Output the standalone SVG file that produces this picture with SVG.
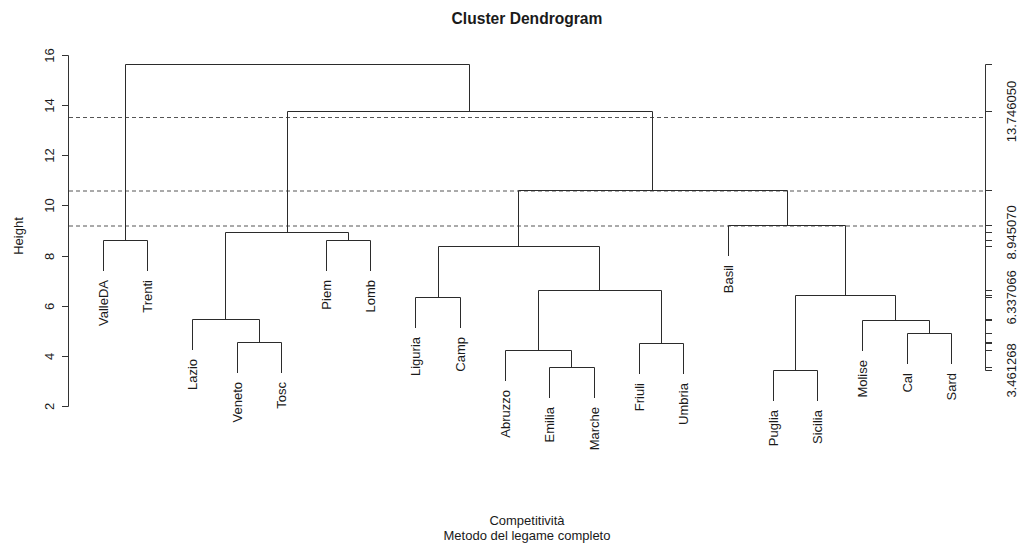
<svg xmlns="http://www.w3.org/2000/svg" width="1021" height="543" viewBox="0 0 1021 543">
  <style>
    text { font-family: "Liberation Sans", Arial, sans-serif; font-size: 13px; fill: #1a1a1a; }
    .title { font-size: 15.6px; font-weight: bold; }
    .branch { fill: none; stroke: #2b2b2b; stroke-width: 1; }
    .axis { fill: none; stroke: #333; stroke-width: 1; }
    .cut { fill: none; stroke: #555; stroke-width: 1; stroke-dasharray: 4 3; }
    .leaf text { text-anchor: end; }
    .tick text { text-anchor: middle; }
  </style>
  <rect width="1021" height="543" fill="#fff"/>

  <!-- titles -->
  <text class="title" x="527" y="24" text-anchor="middle">Cluster Dendrogram</text>
  <text x="527" y="525" text-anchor="middle">Competitività</text>
  <text x="527" y="540" text-anchor="middle">Metodo del legame completo</text>

  <!-- left height axis -->
  <g id="axis-left" class="tick">
    <path class="axis" d="M68.5 55.5V406.5M62 55.5H68.5M62 105.5H68.5M62 155.5H68.5M62 205.5H68.5M62 256.5H68.5M62 306.5H68.5M62 356.5H68.5M62 406.5H68.5"/>
    <text transform="translate(53.5 55.5) rotate(-90)">16</text>
    <text transform="translate(53.5 105.5) rotate(-90)">14</text>
    <text transform="translate(53.5 155.5) rotate(-90)">12</text>
    <text transform="translate(53.5 205.5) rotate(-90)">10</text>
    <text transform="translate(53.5 256.5) rotate(-90)">8</text>
    <text transform="translate(53.5 306.5) rotate(-90)">6</text>
    <text transform="translate(53.5 356.5) rotate(-90)">4</text>
    <text transform="translate(53.5 406.5) rotate(-90)">2</text>
    <text transform="translate(23 236) rotate(-90)">Height</text>
  </g>

  <!-- right axis: one tick per merge height -->
  <g id="axis-right" class="tick">
    <path class="axis" d="M985.5 64.5V370.5M985.5 64.5H992M985.5 111.5H992M985.5 190.5H992M985.5 225.5H992M985.5 232.5H992M985.5 240.5H992M985.5 246.5H992M985.5 290.5H992M985.5 295.5H992M985.5 297.5H992M985.5 319.5H992M985.5 320.5H992M985.5 333.5H992M985.5 342.5H992M985.5 343.5H992M985.5 350.5H992M985.5 367.5H992M985.5 370.5H992"/>
    <text transform="translate(1016 111.5) rotate(-90)">13.746050</text>
    <text transform="translate(1016 232.5) rotate(-90)">8.945070</text>
    <text transform="translate(1016 297.5) rotate(-90)">6.337066</text>
    <text transform="translate(1016 370.5) rotate(-90)">3.461268</text>
  </g>

  <!-- cut levels -->
  <g id="cuts">
    <path class="cut" d="M69 117.5H985M69 191H985M69 226H985"/>
  </g>

  <!-- merges of the tree -->
  <g id="connectors" class="branch">
    <path d="M103.5 271V240.5H147.5V271"/>
    <path d="M237.5 373V342.5H281.5V373"/>
    <path d="M192.5 350V319.5H259.5V342.5"/>
    <path d="M326.5 271V240.5H370.5V271"/>
    <path d="M225.5 319.5V232.5H348.5V240.5"/>
    <path d="M415.5 328V297.5H460.5V328"/>
    <path d="M549.5 398V367.5H594.5V398"/>
    <path d="M505.5 381V350.5H571.5V367.5"/>
    <path d="M639.5 374V343.5H683.5V374"/>
    <path d="M538.5 350.5V290.5H661.5V343.5"/>
    <path d="M438.5 297.5V246.5H599.5V290.5"/>
    <path d="M773.5 401V370.5H817.5V401"/>
    <path d="M907.5 364V333.5H951.5V364"/>
    <path d="M862.5 351V320.5H929.5V333.5"/>
    <path d="M795.5 370.5V295.5H895.5V320.5"/>
    <path d="M728.5 256V225.5H845.5V295.5"/>
    <path d="M518.5 246.5V190.5H787.5V225.5"/>
    <path d="M287.5 232.5V111.5H652.5V190.5"/>
    <path d="M125.5 240.5V64.5H469.5V111.5"/>
  </g>

  <!-- leaves -->
  <g id="leaf-ValleDA" class="leaf"><text transform="translate(108 280) rotate(-90)">ValleDA</text></g>
  <g id="leaf-Trenti" class="leaf"><text transform="translate(152 280) rotate(-90)">Trenti</text></g>
  <g id="leaf-Lazio" class="leaf"><text transform="translate(197 359) rotate(-90)">Lazio</text></g>
  <g id="leaf-Veneto" class="leaf"><text transform="translate(242 382) rotate(-90)">Veneto</text></g>
  <g id="leaf-Tosc" class="leaf"><text transform="translate(286 382) rotate(-90)">Tosc</text></g>
  <g id="leaf-Piem" class="leaf"><text transform="translate(331 280) rotate(-90)">Piem</text></g>
  <g id="leaf-Lomb" class="leaf"><text transform="translate(375 280) rotate(-90)">Lomb</text></g>
  <g id="leaf-Liguria" class="leaf"><text transform="translate(420 337) rotate(-90)">Liguria</text></g>
  <g id="leaf-Camp" class="leaf"><text transform="translate(465 337) rotate(-90)">Camp</text></g>
  <g id="leaf-Abruzzo" class="leaf"><text transform="translate(510 390) rotate(-90)">Abruzzo</text></g>
  <g id="leaf-Emilia" class="leaf"><text transform="translate(554 407) rotate(-90)">Emilia</text></g>
  <g id="leaf-Marche" class="leaf"><text transform="translate(599 407) rotate(-90)">Marche</text></g>
  <g id="leaf-Friuli" class="leaf"><text transform="translate(644 383) rotate(-90)">Friuli</text></g>
  <g id="leaf-Umbria" class="leaf"><text transform="translate(688 383) rotate(-90)">Umbria</text></g>
  <g id="leaf-Basil" class="leaf"><text transform="translate(733 265) rotate(-90)">Basil</text></g>
  <g id="leaf-Puglia" class="leaf"><text transform="translate(778 410) rotate(-90)">Puglia</text></g>
  <g id="leaf-Sicilia" class="leaf"><text transform="translate(822 410) rotate(-90)">Sicilia</text></g>
  <g id="leaf-Molise" class="leaf"><text transform="translate(867 360) rotate(-90)">Molise</text></g>
  <g id="leaf-Cal" class="leaf"><text transform="translate(912 373) rotate(-90)">Cal</text></g>
  <g id="leaf-Sard" class="leaf"><text transform="translate(956 373) rotate(-90)">Sard</text></g>
</svg>
